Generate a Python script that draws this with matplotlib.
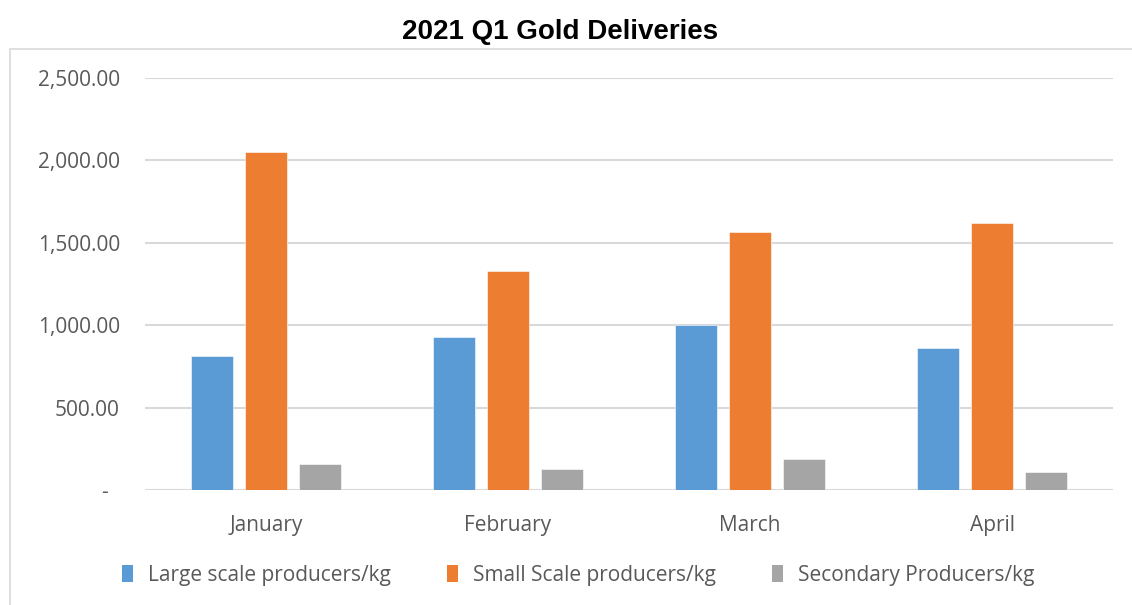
import numpy as np
import matplotlib
matplotlib.use('Agg')
import matplotlib.pyplot as plt
from matplotlib.patches import Rectangle, Patch
from matplotlib.ticker import FuncFormatter

months = ['January', 'February', 'March', 'April']
series_names = ['Large scale producers/kg', 'Small Scale producers/kg', 'Secondary Producers/kg']
large_scale = [813, 928, 999, 860]
small_scale = [2051, 1329, 1564, 1620]
secondary = [156, 127, 186, 111]
colors = ['#5B9BD5', '#ED7D31', '#A5A5A5']
yticks = [0, 500, 1000, 1500, 2000, 2500]

text_gray = '#595959'
grid_gray = '#D9D9D9'
body_font = ['Open Sans', 'DejaVu Sans']
title_font = ['Liberation Sans Narrow', 'Liberation Sans', 'DejaVu Sans']


def fmt_y(v, pos):
    if v == 0:
        return '-  '
    return f'{v:,.2f}'


def plot_deliveries():
    fig = plt.figure(figsize=(11.32, 6.05), dpi=100)

    # Excel chart area border (cropped at right/bottom)
    fig.patches.append(Rectangle((10 / 1132, -0.05), 1.1, 1 - 49 / 605 + 0.05,
                                 transform=fig.transFigure, fill=False,
                                 edgecolor='#D9D9D9', linewidth=1.2))

    ax = fig.add_axes([145 / 1132, 1 - 490 / 605, (1113 - 145) / 1132, (490 - 78) / 605])

    x = np.arange(len(months))
    width = 0.174
    step = 0.223
    for i, (vals, name) in enumerate(zip([large_scale, small_scale, secondary], series_names)):
        ax.bar(x + (i - 1) * step, vals, width, color=colors[i], label=name,
               edgecolor='white', linewidth=0.4, zorder=3)

    ax.set_xlim(-0.5, len(months) - 0.5)
    ax.set_ylim(0, 2500)
    ax.set_yticks(yticks)
    ax.yaxis.set_major_formatter(FuncFormatter(fmt_y))
    ax.set_xticks(x)
    ax.set_xticklabels(months)
    ax.grid(axis='y', color=grid_gray, linewidth=1.5, zorder=0)
    for s in ax.spines.values():
        s.set_visible(False)
    ax.tick_params(axis='both', length=0, colors=text_gray, labelsize=15)
    ax.tick_params(axis='y', pad=18)
    ax.tick_params(axis='x', pad=18)
    for lbl in ax.get_xticklabels() + ax.get_yticklabels():
        lbl.set_family(body_font)

    fig.text(560 / 1132, 1 - 32 / 605, '2021 Q1 Gold Deliveries', ha='center', va='center',
             fontsize=20, fontweight='bold', family=title_font, color='black')

    handles = [Patch(facecolor=c, edgecolor='none') for c in colors]
    fig.legend(handles, series_names, loc='center', bbox_to_anchor=(578 / 1132, 1 - 575 / 605),
               ncol=3, frameon=False, handlelength=0.55, handleheight=0.9, handletextpad=0.7,
               columnspacing=2.7, prop={'family': body_font, 'size': 15}, labelcolor=text_gray)

    fig.savefig('out.png', dpi=100, facecolor='white')
    plt.close(fig)


if __name__ == '__main__':
    plot_deliveries()
